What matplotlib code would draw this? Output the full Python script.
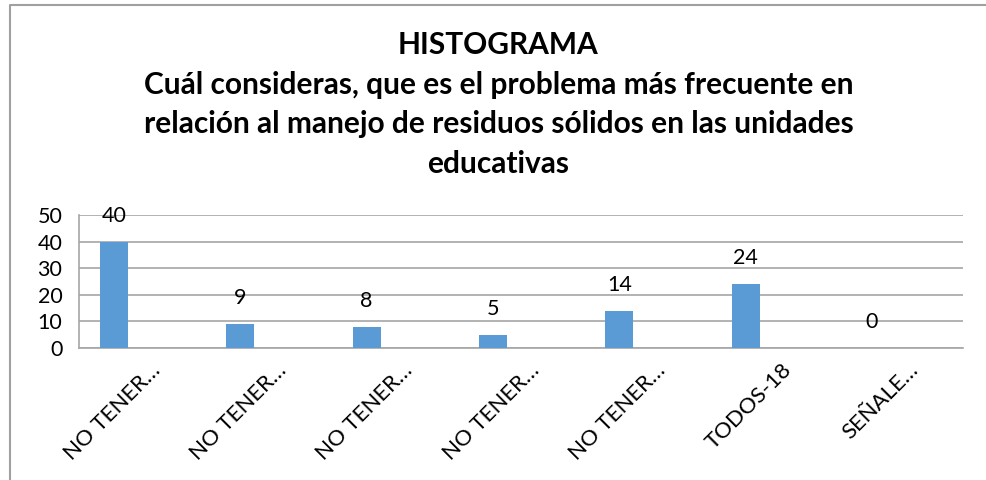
import numpy as np
import matplotlib.pyplot as plt
import matplotlib.transforms as mtransforms
from matplotlib.lines import Line2D

categories = ['NO TENER…', 'NO TENER…', 'NO TENER…', 'NO TENER…',
              'NO TENER…', 'TODOS-18', 'SEÑALE…']
values = [40, 9, 8, 5, 14, 24, 0]
yticks = [0, 10, 20, 30, 40, 50]
title = ('HISTOGRAMA\nCuál consideras, que es el problema más frecuente en\n'
         'relación al manejo de residuos sólidos en las unidades\neducativas')

plt.rcParams['font.family'] = ['Lato', 'DejaVu Sans']

fig = plt.figure(figsize=(9.87, 4.80), dpi=100)
ax = fig.add_axes([0.080, 0.275, 0.8957, 0.277])

# category slots are 1 wide; the bar sits left of the slot centre
x = np.arange(len(categories))
bar_w = 0.222
bar_x = x - bar_w
ax.bar(bar_x, values, width=bar_w, color='#5B9BD5', zorder=3)

for bx, v in zip(bar_x, values):
    ax.annotate(str(v), xy=(bx, v), xytext=(0, 26), textcoords='offset pixels',
                ha='center', va='center', fontsize=15.5, color='black')

ax.set_xlim(-0.5, len(categories) - 0.5)
ax.set_ylim(0, 50)
ax.set_yticks(yticks)
ax.tick_params(axis='y', labelsize=15.5, length=0, pad=12)
ax.set_xticks(x)
ax.set_xticklabels(categories, rotation=45, ha='right', rotation_mode='anchor',
                   fontsize=16)
ax.tick_params(axis='x', length=0, pad=10)
shift = mtransforms.ScaledTranslation(8 / 100, 2 / 100, fig.dpi_scale_trans)
for lab in ax.get_xticklabels():
    lab.set_transform(lab.get_transform() + shift)

ax.grid(axis='y', color='#a6a6a6', linewidth=1.2, zorder=0)
for s in ['top', 'right']:
    ax.spines[s].set_visible(False)
for s in ['left', 'bottom']:
    ax.spines[s].set_color('#a6a6a6')
    ax.spines[s].set_linewidth(1.2)

fig.text(0.505, 0.935, title, ha='center', va='top', fontsize=21.5,
         fontweight='bold', linespacing=1.5)

# chart area border (left and top edges visible)
fig.add_artist(Line2D([10.5 / 987, 10.5 / 987, 1.0], [0.0, 1 - 5 / 480, 1 - 5 / 480],
                      transform=fig.transFigure, color='#a0a0a0', linewidth=1.5))

plt.savefig('out.png', dpi=100)
